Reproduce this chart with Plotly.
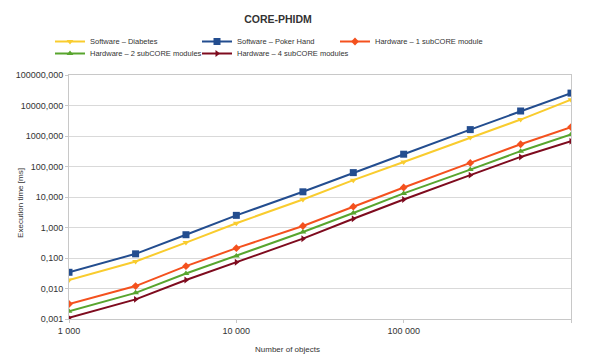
import plotly.graph_objects as go

# Number of objects processed
objects = [1000, 2500, 5000, 10000, 25000, 50000, 100000, 250000, 500000, 1000000]

# Execution time in ms for each configuration
sw_diabetes = [0.019, 0.077, 0.32, 1.38, 8.3, 35.7, 141, 890, 3460, 15500]
sw_poker = [0.034, 0.137, 0.58, 2.5, 14.8, 63, 253, 1620, 6600, 25500]
hw_1_module = [0.0031, 0.012, 0.054, 0.21, 1.12, 4.8, 20.5, 131, 537, 1960]
hw_2_modules = [0.0018, 0.0072, 0.031, 0.117, 0.71, 3.0, 13.1, 79, 318, 1120]
hw_4_modules = [0.0011, 0.0044, 0.019, 0.073, 0.43, 1.94, 8.3, 52, 206, 672]

# Axis tick labels
y_tickvals = [0.001, 0.01, 0.1, 1, 10, 100, 1000, 10000, 100000]
y_ticktext = ["0,001", "0,010", "0,100", "1,000", "10,000", "100,000",
              "1000,000", "10000,000", "100000,000"]
x_tickvals = [1000, 10000, 100000, 1000000]
x_ticktext = ["1 000", "10 000", "100 000", "1 000 000"]

# name, values, colour, marker symbol, marker size, legend id, legend slot (col, row)
series = [
    ("Software – Diabetes", sw_diabetes, "#f9cc2e", "triangle-down", 6, "legend", (0, 0)),
    ("Software – Poker Hand", sw_poker, "#234d8f", "square", 7, "legend2", (1, 0)),
    ("Hardware – 1 subCORE module", hw_1_module, "#f4511e", "diamond", 6, "legend3", (2, 0)),
    ("Hardware – 2 subCORE modules", hw_2_modules, "#58a52e", "triangle-up", 6, "legend4", (0, 1)),
    ("Hardware – 4 subCORE modules", hw_4_modules, "#7e0b1e", "triangle-right", 6, "legend5", (1, 1)),
]

fig = go.Figure()
for name, vals, color, symbol, msize, leg, _ in series:
    fig.add_trace(go.Scatter(
        x=objects, y=vals, name=name, mode="lines+markers",
        line=dict(color=color, width=2),
        marker=dict(symbol=symbol, size=msize, color=color),
        legend=leg, showlegend=True,
    ))

font_main = "Liberation Sans, Arial, sans-serif"
W, H = 591, 356
col_left = [50, 197, 335]
row_top = [27, 39]

legends = {}
for _, _, _, _, _, leg, (col, row) in series:
    legends[leg] = dict(
        orientation="v", xref="container", yref="container",
        xanchor="left", yanchor="top",
        x=col_left[col] / W, y=1 - row_top[row] / H,
        itemwidth=30,
        font=dict(family=font_main, size=7.5, color="#333333"),
        bgcolor="rgba(0,0,0,0)",
    )

fig.update_layout(
    width=W, height=H,
    showlegend=True,
    margin=dict(l=69, r=20, t=75, b=37, autoexpand=False),
    paper_bgcolor="white", plot_bgcolor="white",
    font=dict(family=font_main, size=9, color="#333333"),
    title=dict(text="<b>CORE-PHIDM</b>", x=278 / W, xanchor="center",
               y=1 - 19 / H, yanchor="middle",
               font=dict(family=font_main, size=10.5, color="#333333")),
    **legends,
    xaxis=dict(
        type="log", range=[3, 6],
        tickvals=x_tickvals, ticktext=x_ticktext,
        showgrid=False, showline=True, mirror=True,
        linecolor="#c8c8c8", linewidth=1,
        ticks="outside", ticklen=3, tickcolor="#c8c8c8",
        tickfont=dict(size=9, color="#333333"), zeroline=False,
    ),
    yaxis=dict(
        type="log", range=[-3, 5],
        tickvals=y_tickvals, ticktext=y_ticktext,
        showgrid=True, gridcolor="#d9d9d9", gridwidth=1,
        showline=True, mirror=True, linecolor="#c8c8c8", linewidth=1,
        ticks="outside", ticklen=3, tickcolor="#c8c8c8",
        tickfont=dict(size=9, color="#333333"), zeroline=False,
    ),
    annotations=[
        dict(text="Number of objects", xref="paper", yref="paper",
             x=0.436, y=-0.125, xanchor="center", yanchor="middle",
             showarrow=False, font=dict(size=8, color="#333333")),
        dict(text="Execution time [ms]", xref="paper", yref="paper",
             x=-0.098, y=0.475, xanchor="center", yanchor="middle",
             textangle=-90, showarrow=False,
             font=dict(size=8, color="#333333")),
    ],
)

fig.write_html("out.html")
